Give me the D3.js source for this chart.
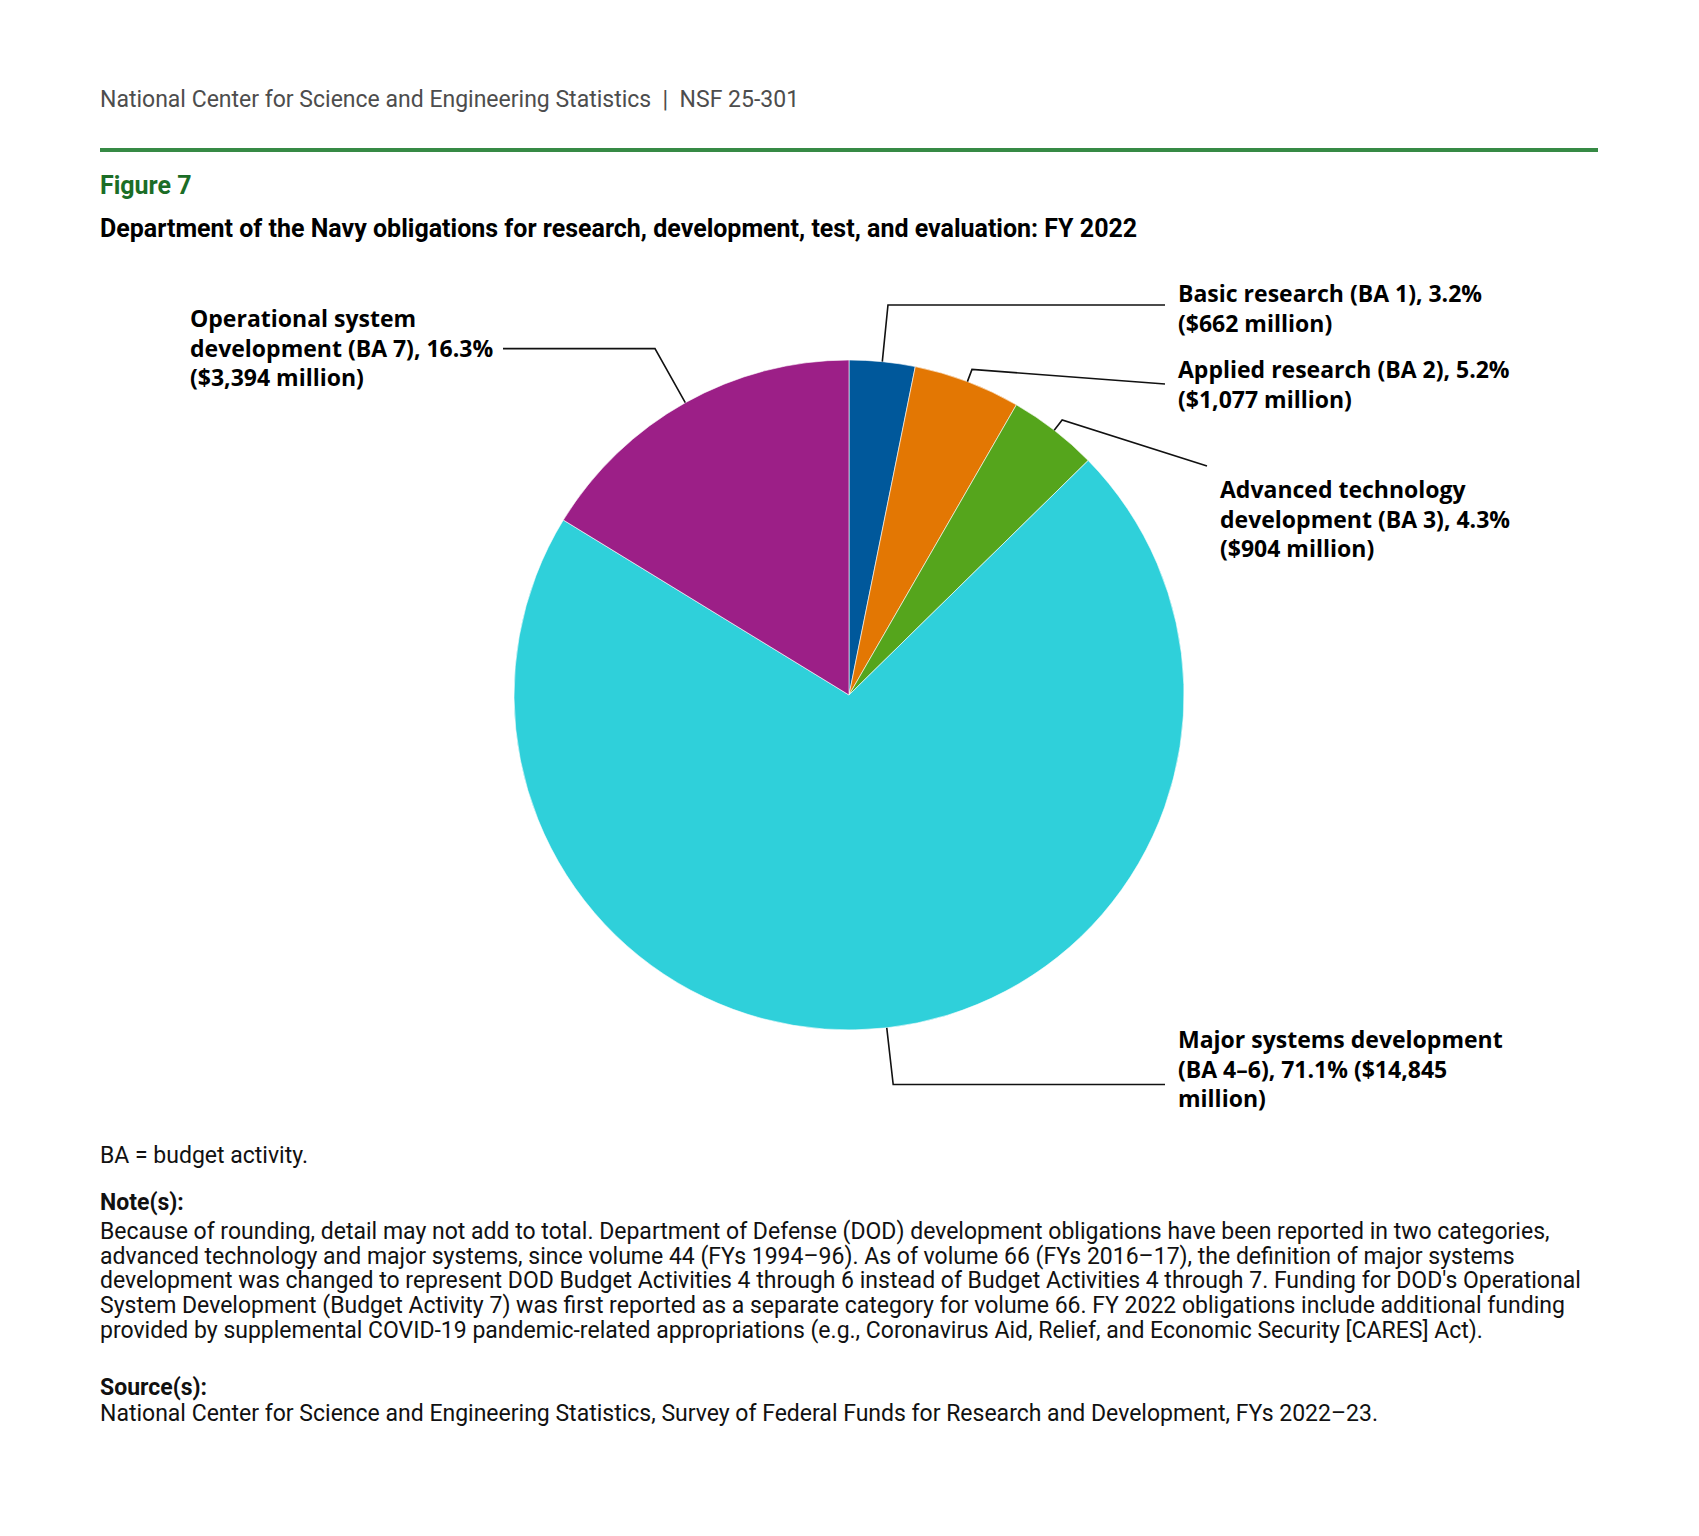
<!DOCTYPE html>
<html>
<head>
<meta charset="utf-8">
<script src="https://cdn.jsdelivr.net/npm/d3@7"></script>
<style>
  body { margin: 0; background: #fff; }
</style>
</head>
<body>
<div id="chart"></div>
<script>
// slice data, clockwise from 12 o'clock
const categories = ["Basic research (BA 1)", "Applied research (BA 2)", "Advanced technology development (BA 3)", "Major systems development (BA 4–6)", "Operational system development (BA 7)"];
const millions = [662, 1077, 904, 14845, 3394];
const percents = ["3.2%", "5.2%", "4.3%", "71.1%", "16.3%"];
const colors = ["#00589b", "#e37703", "#55a51c", "#2fd0da", "#9c1f87"];

// label text, as wrapped in the figure
const labelLines = [
    ["Basic research (BA 1), 3.2%", "($662 million)"],
    ["Applied research (BA 2), 5.2%", "($1,077 million)"],
    ["Advanced technology", "development (BA 3), 4.3%", "($904 million)"],
    ["Major systems development", "(BA 4–6), 71.1% ($14,845", "million)"],
    ["Operational system", "development (BA 7), 16.3%", "($3,394 million)"]
];

const noteLines = [
    "Because of rounding, detail may not add to total. Department of Defense (DOD) development obligations have been reported in two categories,",
    "advanced technology and major systems, since volume 44 (FYs 1994–96). As of volume 66 (FYs 2016–17), the definition of major systems",
    "development was changed to represent DOD Budget Activities 4 through 6 instead of Budget Activities 4 through 7. Funding for DOD's Operational",
    "System Development (Budget Activity 7) was first reported as a separate category for volume 66. FY 2022 obligations include additional funding",
    "provided by supplemental COVID-19 pandemic-related appropriations (e.g., Coronavirus Aid, Relief, and Economic Security [CARES] Act)."
];
const sourceLine = "National Center for Science and Engineering Statistics, Survey of Federal Funds for Research and Development, FYs 2022–23.";

const width = 1699, height = 1536;
const cx = 849, cy = 695, radius = 335;
const labelFont = "'Open Sans', 'Noto Sans', sans-serif";
const textFont = "Roboto, 'Liberation Sans', sans-serif";

var svg = d3.select("#chart").append("svg")
    .attr("width", width)
    .attr("height", height);

// header
svg.append("text")
    .attr("x", 100).attr("y", 107)
    .attr("xml:space", "preserve")
    .style("font-family", textFont).style("font-size", "23px")
    .style("fill", "#4d4d4d")
    .text("National Center for Science and Engineering Statistics  |  NSF 25-301");

svg.append("line")
    .attr("x1", 100).attr("x2", 1598)
    .attr("y1", 150).attr("y2", 150)
    .style("stroke", "#368a45").style("stroke-width", 4);

svg.append("text")
    .attr("x", 100).attr("y", 194)
    .style("font-family", textFont).style("font-size", "25px").style("font-weight", "bold")
    .style("fill", "#1b6d26")
    .text("Figure 7");

svg.append("text")
    .attr("x", 100).attr("y", 237)
    .style("font-family", textFont).style("font-size", "25px").style("font-weight", "bold")
    .style("fill", "#000")
    .text("Department of the Navy obligations for research, development, test, and evaluation: FY 2022");

// pie
var pie = d3.pie().sort(null).value(function (d) { return d; });
var arcs = pie(millions);
var arc = d3.arc().innerRadius(0).outerRadius(radius);

var pieGroup = svg.append("g")
    .attr("transform", "translate(" + [cx, cy] + ")");

pieGroup.selectAll("path")
    .data(arcs)
    .enter().append("path")
    .attr("d", arc)
    .attr("fill", function (d, i) { return colors[i]; })
    .attr("stroke", "#ffffff")
    .attr("stroke-width", 0.6);

// leader lines: edge of slice -> elbow -> label
// elbow = radial distance beyond the pie; end = where the line meets the label
const elbowOffset = [57, 13, 13, 57, 62];
const lineEnd = [[1165, 305], [1165, 384], [1207, 466], [1165, 1087], [503, 348]];
const slanted = [false, true, true, false, false];
const labelPos = [[1178, 302], [1178, 378], [1220, 498], [1178, 1048], [190, 327]];
const lineHeight = 29.5;

function polar(angle, r) {
    return [cx + r * Math.sin(angle), cy - r * Math.cos(angle)];
}

var leaders = svg.append("g");
arcs.forEach(function (d, i) {
    var mid = (d.startAngle + d.endAngle) / 2;
    var p0 = polar(mid, radius);
    var p1 = polar(mid, radius + elbowOffset[i]);
    var p2 = [lineEnd[i][0], slanted[i] ? lineEnd[i][1] : p1[1]];
    leaders.append("path")
        .attr("d", d3.line()([p0, p1, p2]))
        .style("fill", "none")
        .style("stroke", "#111")
        .style("stroke-width", 1.6);
});

var labels = svg.append("g");
labelLines.forEach(function (lines, i) {
    var t = labels.append("text")
        .style("font-family", labelFont)
        .style("font-size", "23px")
        .style("font-weight", "bold")
        .style("fill", "#000");
    lines.forEach(function (line, j) {
        t.append("tspan")
            .attr("x", labelPos[i][0])
            .attr("y", labelPos[i][1] + j * lineHeight)
            .text(line);
    });
});

// footer notes
var foot = svg.append("g")
    .style("font-family", textFont)
    .style("font-size", "23px")
    .style("fill", "#111");

foot.append("text").attr("x", 100).attr("y", 1163).text("BA = budget activity.");
foot.append("text").attr("x", 100).attr("y", 1210).style("font-weight", "bold").text("Note(s):");
noteLines.forEach(function (line, i) {
    foot.append("text").attr("x", 100).attr("y", 1239 + i * 24.7).text(line);
});
foot.append("text").attr("x", 100).attr("y", 1395).style("font-weight", "bold").text("Source(s):");
foot.append("text").attr("x", 100).attr("y", 1421).text(sourceLine);
</script>
</body>
</html>
